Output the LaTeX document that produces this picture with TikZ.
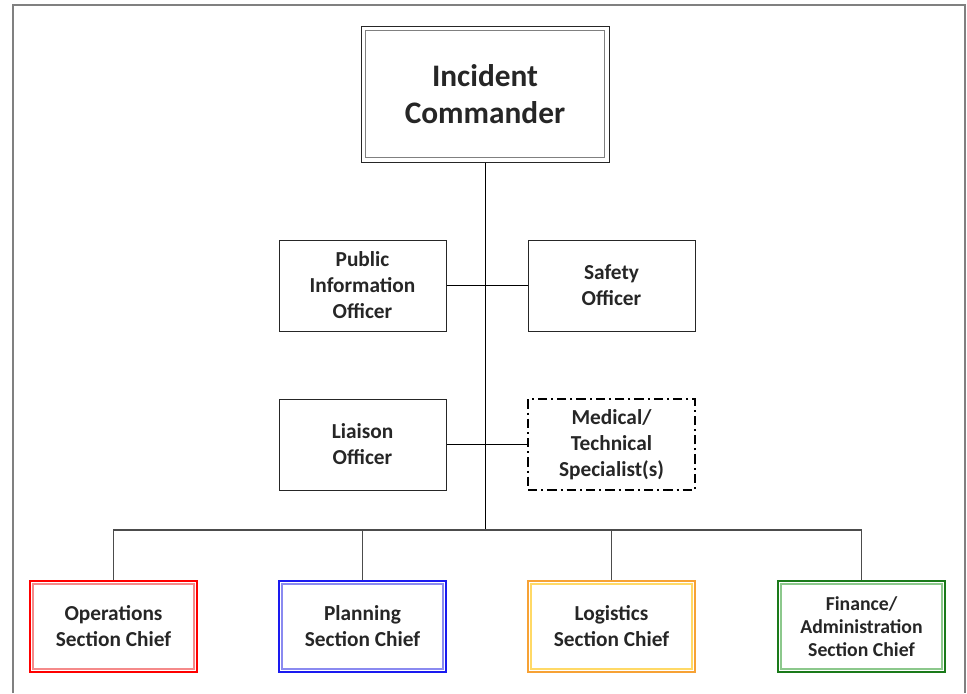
\documentclass[tikz,border=0pt]{standalone}
\usepackage{fontspec}
\setmainfont{Carlito}

\definecolor{opsred}{HTML}{FF0000}
\definecolor{opsredin}{HTML}{F58A8A}
\definecolor{planblue}{HTML}{1A1AF0}
\definecolor{planbluein}{HTML}{8A8AF0}
\definecolor{logorange}{HTML}{F7A235}
\definecolor{logorangein}{HTML}{FFD966}
\definecolor{fingreen}{HTML}{1A7A1A}
\definecolor{fingreenin}{HTML}{8CC88C}
\definecolor{txt}{HTML}{262626}

\tikzset{
  node distance=143.625pt,
  box/.style={draw=black!85, line width=0.75pt, minimum width=125.25pt, minimum height=68.25pt,
    inner sep=0pt, align=center, text=txt, font=\fontsize{16}{19.5}\selectfont\bfseries},
  bigbox/.style={box, minimum width=186pt, minimum height=102pt,
    font=\fontsize{23.5}{27.75}\selectfont\bfseries},
  chiefbox/.style={box, line width=0.9pt},
  dashdot box/.style={box, draw=black, line width=1.9pt, dash pattern=on 7pt off 3pt on 1.5pt off 3pt},
  link/.style={draw=black, line width=0.75pt},
  bus/.style={draw=black!70, line width=1pt}
}

\begin{document}
\begin{tikzpicture}
      \useasboundingbox (0,0) rectangle (725.25pt,-519.75pt);
      % frame
      \draw[gray, line width=1.5pt] (9.4pt,-519.75pt) |- (723.4pt,-4.1pt) -- (723.4pt,-519.75pt);

      \node [bigbox] (ic) at (363.75pt,-70.5pt) {Incident\\Commander};
      % row 2
      \node [box, below of=ic, xshift=-91.875pt] (pio) {Public\\Information\\Officer};
      \node [box, below of=ic, xshift=94.875pt] (safety) {Safety\\Officer};
      % row 3
      \node [box, below of=pio, node distance=119.25pt] (liaison) {Liaison\\Officer};
      \node [dashdot box, below of=safety, node distance=119.25pt] (medical) {Medical/\\Technical\\Specialist(s)};
      % row 4
      \node [chiefbox, draw=planblue, below of=liaison, node distance=136.5pt] (plan) {Planning\\Section Chief};
      \node [chiefbox, draw=opsred, left of=plan, node distance=186.75pt] (ops) {Operations\\Section Chief};
      \node [chiefbox, draw=logorange, below of=medical, node distance=136.5pt] (logi) {Logistics\\Section Chief};
      \node [chiefbox, draw=fingreen, right of=logi, node distance=187.5pt,
             font=\fontsize{14.8}{17.25}\selectfont\bfseries] (fin) {Finance/\\Administration\\Section Chief};
      \coordinate (bus) at (363.75pt,-397.5pt);

      % inner lines
      \draw [black!50, line width=1.3pt] ([shift={(3.75pt,3.75pt)}]ic.south west) rectangle ([shift={(-3.75pt,-3.75pt)}]ic.north east);
      \foreach \n/\c in {ops/opsredin, plan/planbluein, logi/logorangein, fin/fingreenin}
        \draw [\c, line width=1.5pt] ([shift={(3pt,3pt)}]\n.south west) rectangle ([shift={(-3pt,-3pt)}]\n.north east);

      % links
      \draw [link] (ic) -- (bus);
      \draw [link] (pio) -- (safety);
      \draw [link] (liaison) -- (medical);
      \draw [bus] (ops.north) |- (bus);
      \draw [bus] (fin.north) |- (bus);
      \draw [bus] (plan.north) -- (plan.north |- bus);
      \draw [bus] (logi.north) -- (logi.north |- bus);
\end{tikzpicture}
\end{document}
